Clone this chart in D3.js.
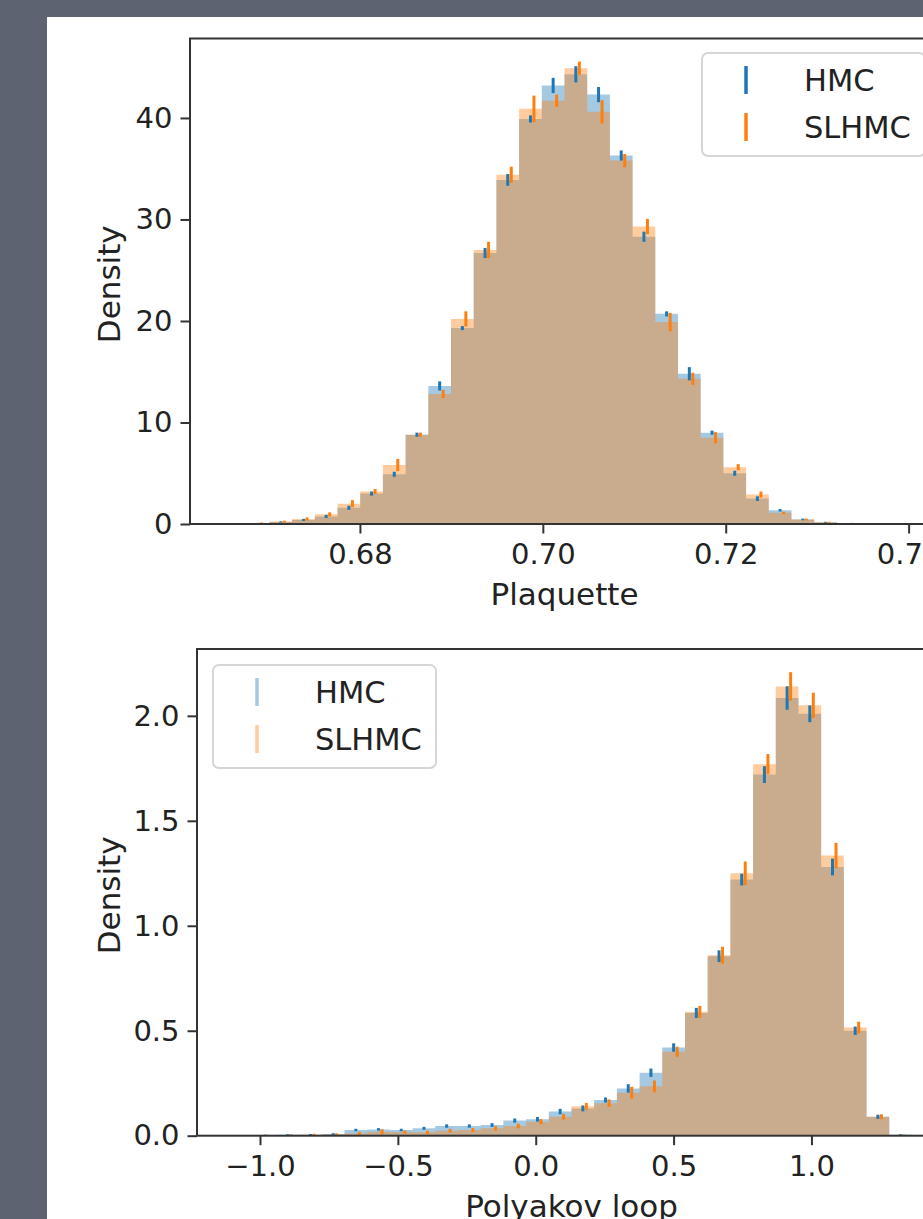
<!DOCTYPE html>
<html>
<head>
<meta charset="utf-8">
<script src="https://cdnjs.cloudflare.com/ajax/libs/d3/7.8.5/d3.min.js"></script>
<style>
  body { margin: 0; background: #5e6372; }
  svg { display: block; }
  text { font-family: "DejaVu Sans", sans-serif; fill: #222; }
</style>
</head>
<body>
<svg id="svg" width="923" height="1219"></svg>
<script>
// Plaquette: 30 density bins between plaqLo and plaqHi
var plaqLo = 0.66514, plaqHi = 0.7396;
var plaqHMC = [0.02, 0.07, 0.2, 0.4, 0.75, 1.6, 3.0, 4.9, 8.8, 13.6, 19.3, 26.7, 33.9, 39.9, 43.2,
  44.3, 42.3, 36.3, 28.3, 20.7, 14.8, 9.0, 5.0, 2.5, 1.35, 0.45, 0.17, 0.06, 0.02, 0.01];
var plaqSLHMC = [0.03, 0.1, 0.25, 0.5, 0.95, 2.0, 3.2, 5.8, 8.8, 12.8, 20.2, 27.0, 34.4, 40.9, 41.7,
  44.9, 40.6, 35.8, 29.3, 19.9, 14.3, 8.5, 5.6, 2.9, 1.1, 0.45, 0.17, 0.07, 0.03, 0.01];
var plaqErrHMC = [0.02, 0.04, 0.06, 0.1, 0.15, 0.2, 0.2, 0.25, 0.2, 0.45, 0.2, 0.5, 0.58, 0.35, 0.75,
  0.8, 0.75, 0.5, 0.5, 0.25, 0.65, 0.2, 0.25, 0.23, 0.12, 0.08, 0.05, 0.03, 0.02, 0.01];
var plaqErrSLHMC = [0.03, 0.05, 0.08, 0.15, 0.2, 0.35, 0.25, 0.6, 0.2, 0.4, 0.75, 0.8, 0.8, 1.3, 0.6,
  0.65, 1.15, 0.65, 0.75, 0.9, 0.6, 0.55, 0.3, 0.3, 0.12, 0.08, 0.05, 0.04, 0.02, 0.01];
var plaqXTicks = [0.68, 0.70, 0.72, 0.74];
var plaqYTicks = [0, 10, 20, 30, 40];

// Polyakov loop: 30 density bins between polyLo and polyHi
var polyLo = -1.105, polyHi = 1.3645;
var polyHMC = [0, 0.003, 0.004, 0.005, 0.008, 0.027, 0.03, 0.027, 0.035, 0.046, 0.046, 0.051, 0.072, 0.078, 0.115,
  0.13, 0.17, 0.225, 0.30, 0.42, 0.585, 0.855, 1.22, 1.72, 2.085, 2.01, 1.28, 0.50, 0.09, 0.005];
var polySLHMC = [0, 0.002, 0.003, 0.005, 0.006, 0.011, 0.019, 0.018, 0.016, 0.024, 0.027, 0.035, 0.046, 0.067, 0.09,
  0.14, 0.155, 0.205, 0.235, 0.40, 0.59, 0.86, 1.25, 1.77, 2.14, 2.05, 1.335, 0.515, 0.09, 0.003];
var polyErrHMC = [0, 0.002, 0.003, 0.003, 0.004, 0.006, 0.006, 0.006, 0.007, 0.008, 0.008, 0.009, 0.01, 0.011, 0.013,
  0.014, 0.012, 0.02, 0.02, 0.02, 0.024, 0.028, 0.028, 0.04, 0.056, 0.04, 0.04, 0.02, 0.01, 0.002];
var polyErrSLHMC = [0, 0.002, 0.003, 0.004, 0.005, 0.007, 0.012, 0.007, 0.008, 0.009, 0.009, 0.01, 0.011, 0.012, 0.014,
  0.016, 0.018, 0.028, 0.028, 0.024, 0.028, 0.04, 0.056, 0.048, 0.068, 0.06, 0.06, 0.028, 0.012, 0.002];
var polyXTicks = [-1.0, -0.5, 0.0, 0.5, 1.0];
var polyYTicks = [0, 0.5, 1.0, 1.5, 2.0];

var seriesNames = ["HMC", "SLHMC"];
var seriesColors = ["#1f77b4", "#ff7f0e"];

var svg = d3.select("#svg");
var tickFont = 29, labelFont = 31, legendFont = 30.5;

// white sheet on the dark background
svg.append("rect")
  .attr("x", 47).attr("y", 17)
  .attr("width", 923 - 47).attr("height", 1219 - 17)
  .attr("fill", "white");

function draw_hist(box, lo, hi, series, errs, xTicks, yTicks, xFmt, yFmt, xLabel, legendBox, legendAlpha) {
  var n = series[0].length,
    w = (hi - lo) / n,
    pad = 0.05 * (hi - lo);

  var ymax = 1.05 * d3.max(series, function (s, k) {
    return d3.max(s, function (v, i) { return v + errs[k][i]; });
  });

  var x = d3.scaleLinear().domain([lo - pad, hi + pad]).range([box.left, box.right]);
  var y = d3.scaleLinear().domain([0, ymax]).range([box.bottom, box.top]);

  var g = svg.append("g");

  // histograms as step areas
  var area = d3.area()
    .curve(d3.curveStepAfter)
    .x(function (d) { return x(d[0]); })
    .y0(y(0))
    .y1(function (d) { return y(d[1]); });

  series.forEach(function (s, k) {
    var pts = s.map(function (v, i) { return [lo + i * w, v]; });
    pts.push([hi, s[n - 1]]);
    g.append("path")
      .attr("d", area(pts))
      .attr("fill", seriesColors[k])
      .attr("fill-opacity", 0.4);
  });

  // error bars
  series.forEach(function (s, k) {
    g.selectAll(null)
      .data(s)
      .enter()
      .append("line")
      .attr("x1", function (v, i) { return x(lo + (i + 0.5) * w) + k * 3.5; })
      .attr("x2", function (v, i) { return x(lo + (i + 0.5) * w) + k * 3.5; })
      .attr("y1", function (v, i) { return y(v - errs[k][i]); })
      .attr("y2", function (v, i) { return y(v + errs[k][i]); })
      .attr("stroke", seriesColors[k])
      .attr("stroke-width", 3);
  });

  // axes
  var xAxis = g.append("g")
    .attr("transform", "translate(0," + box.bottom + ")")
    .call(d3.axisBottom(x).tickValues(xTicks).tickFormat(d3.format(xFmt)).tickSize(9.5).tickPadding(10));
  var yAxis = g.append("g")
    .attr("transform", "translate(" + box.left + ",0)")
    .call(d3.axisLeft(y).tickValues(yTicks).tickFormat(d3.format(yFmt)).tickSize(9.5).tickPadding(8));

  [xAxis, yAxis].forEach(function (a) {
    a.select(".domain").remove();
    a.selectAll(".tick line").attr("stroke", "#333").attr("stroke-width", 2);
    a.selectAll(".tick text").style("font-size", tickFont + "px").attr("fill", "#222");
  });

  // frame
  g.append("rect")
    .attr("x", box.left).attr("y", box.top)
    .attr("width", box.right - box.left).attr("height", box.bottom - box.top)
    .attr("fill", "none")
    .attr("stroke", "#333")
    .attr("stroke-width", 2);

  g.append("text")
    .attr("x", (box.left + box.right) / 2)
    .attr("y", box.bottom + 81)
    .attr("text-anchor", "middle")
    .style("font-size", labelFont + "px")
    .text(xLabel);

  g.append("text")
    .attr("transform", "translate(" + 120 + "," + ((box.top + box.bottom) / 2 + 3) + ") rotate(-90)")
    .attr("text-anchor", "middle")
    .style("font-size", labelFont + "px")
    .text("Density");

  // legend
  var lg = g.append("g").attr("transform", "translate(" + legendBox.x + "," + legendBox.y + ")");
  lg.append("rect")
    .attr("width", 223).attr("height", 103)
    .attr("rx", 6)
    .attr("fill", "white").attr("fill-opacity", 0.8)
    .attr("stroke", "#d6d6d6").attr("stroke-width", 2);
  seriesNames.forEach(function (name, k) {
    var cy = 27 + k * 47;
    lg.append("line")
      .attr("x1", 44).attr("x2", 44)
      .attr("y1", cy - 14).attr("y2", cy + 14)
      .attr("stroke", seriesColors[k])
      .attr("stroke-opacity", legendAlpha)
      .attr("stroke-width", 3.5);
    lg.append("text")
      .attr("x", 102).attr("y", cy)
      .attr("dy", "0.36em")
      .style("font-size", legendFont + "px")
      .text(name);
  });
}

draw_hist({ left: 190, right: 939, top: 38.5, bottom: 524 }, plaqLo, plaqHi,
  [plaqHMC, plaqSLHMC], [plaqErrHMC, plaqErrSLHMC], plaqXTicks, plaqYTicks, ".2f", "d",
  "Plaquette", { x: 702, y: 53 }, 1);

draw_hist({ left: 197, right: 946, top: 649, bottom: 1135.7 }, polyLo, polyHi,
  [polyHMC, polySLHMC], [polyErrHMC, polyErrSLHMC], polyXTicks, polyYTicks, ".1f", ".1f",
  "Polyakov loop", { x: 213, y: 665 }, 0.4);
</script>
</body>
</html>
